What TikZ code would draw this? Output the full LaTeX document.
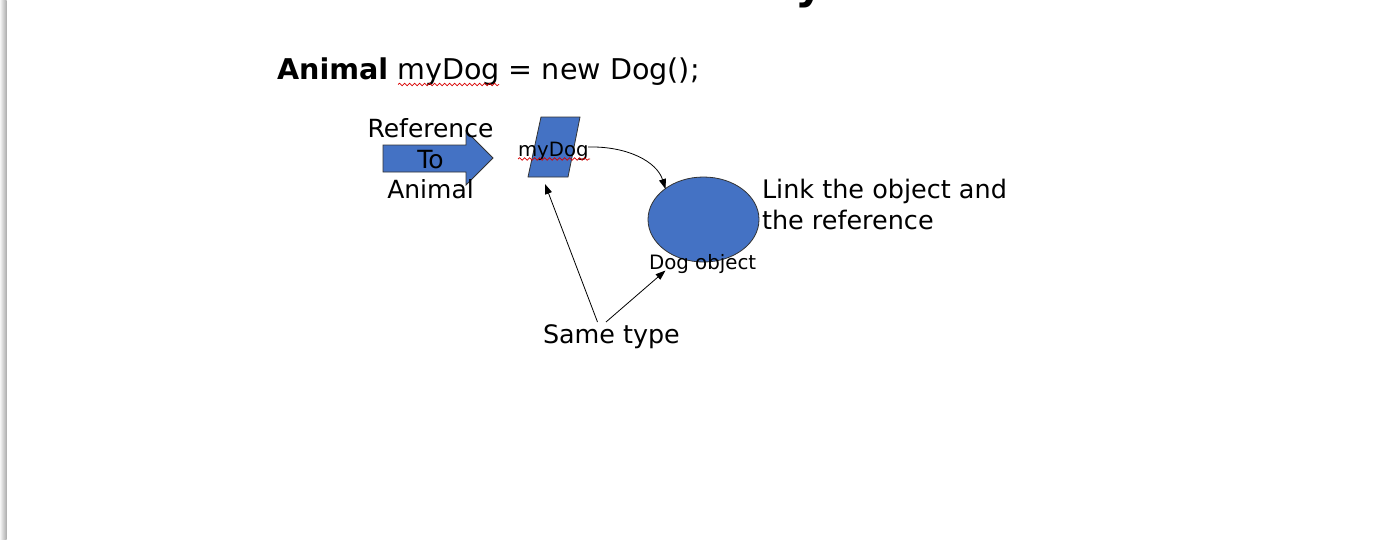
\documentclass[tikz,border=0pt]{standalone}
\usepackage{fontspec}
\setmainfont{DejaVu Sans}
\usetikzlibrary{shapes.geometric,arrows.meta,decorations.pathmorphing}
\definecolor{shapeblue}{HTML}{4472C4}
\tikzset{
  shapefill/.style={fill=shapeblue,draw=black!80,line width=0.8pt},
  conn/.style={line width=0.8pt,-{Triangle[length=10pt,width=7pt]}},
  txt/.style={anchor=base west,inner sep=0pt,outer sep=0pt},
  squiggle/.style={red!85!black,line width=0.7pt,decorate,decoration={snake,segment length=5pt,amplitude=1.3pt}}
}
\begin{document}
\begin{tikzpicture}[x=1pt,y=-1pt]
\useasboundingbox (0,0) rectangle (1375,539);
\clip (0,0) rectangle (1375,539);
\fill[white] (0,0) rectangle (1375,539);
% left page shadow
\shade[left color=gray!8,right color=gray!65] (0,0) rectangle (6.5,539);
% tail of cut-off title glyph
\node[txt,font=\fontsize{44}{50}\selectfont\bfseries] (titlecut) at (795,-1.5) {y};
% code line
\node[txt,font=\fontsize{28.6}{34}\selectfont] (code) at (277,79) {\textbf{Animal} myDog = new Dog();};
\draw[squiggle] (398,84.5) -- (499,84.5);
% block arrow
\draw[shapefill] (383,145) -- (466,145) -- (466,131) -- (493,158) -- (466,185) -- (466,172) -- (383,172) -- cycle;
\node[anchor=base,inner sep=0pt,font=\fontsize{25}{31}\selectfont] (ref1) at (430.5,137) {Reference};
\node[anchor=base,inner sep=0pt,font=\fontsize{25}{31}\selectfont] (ref2) at (430.5,168) {To};
\node[anchor=base,inner sep=0pt,font=\fontsize{25}{31}\selectfont] (ref3) at (430.5,198) {Animal};
% parallelogram
\draw[shapefill] (541,117) -- (580,117) -- (568,177) -- (528,177) -- cycle;
\node[txt,font=\fontsize{19.7}{23}\selectfont] (mydog) at (518,156) {myDog};
\draw[squiggle] (518,159) -- (590,159);
% ellipse
\node[ellipse,shapefill,minimum width=111pt,minimum height=85pt,inner sep=0pt] (dog) at (703.5,219.5) {};
\node[txt,font=\fontsize{19.8}{23}\selectfont] (dogtxt) at (649,269) {Dog object};
\node[txt,font=\fontsize{25.5}{31}\selectfont] (link1) at (762,198) {Link the object and};
\node[txt,font=\fontsize{25.5}{31}\selectfont] (link2) at (762,229) {the reference};
\node[txt,font=\fontsize{25.4}{31}\selectfont] (same) at (543,343) {Same type};
% connector points
\coordinate (mydogR) at (588,147);
\coordinate (etop) at (665.5,189);
\coordinate (pbot) at (545,184);
\coordinate (ebot) at (665.5,270.5);
\coordinate (s1) at (597.5,322);
\coordinate (s2) at (606,322);
\draw[conn] (mydogR) .. controls (628,146) and (657,162) .. (etop);
\draw[conn] (s1) -- (pbot);
\draw[conn] (s2) -- (ebot);
\end{tikzpicture}
\end{document}
